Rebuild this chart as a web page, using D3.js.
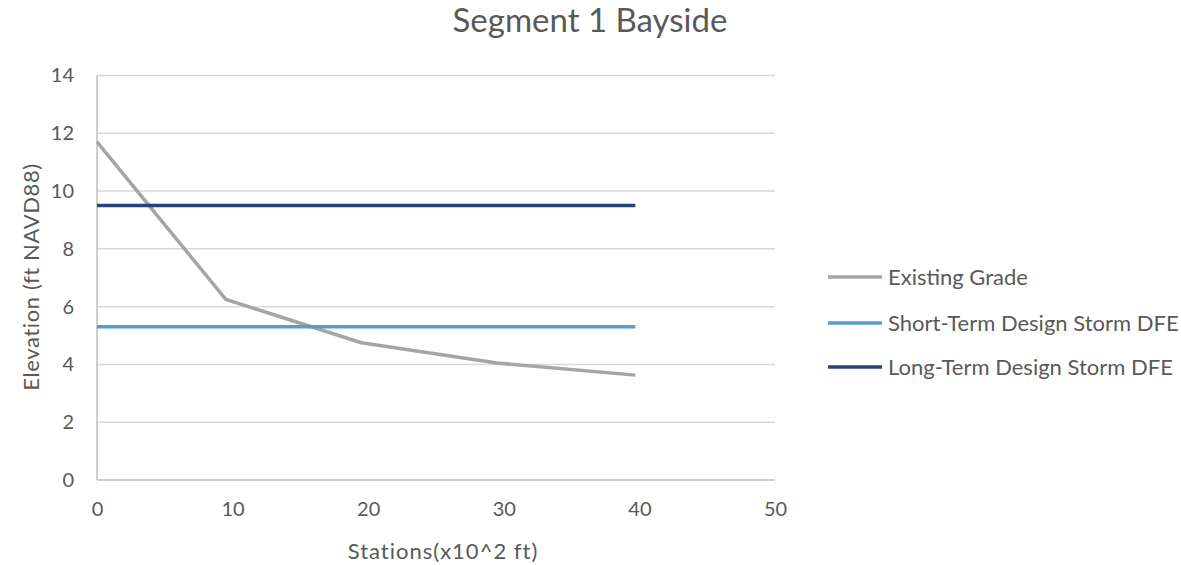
<!DOCTYPE html>
<html>
<head>
<meta charset="utf-8">
<script src="https://cdn.jsdelivr.net/npm/d3@7"></script>
<style>
  html, body { margin: 0; padding: 0; background: #fff; }
  svg text { font-family: Lato, "Open Sans", sans-serif; fill: #595959; }
</style>
</head>
<body>
<svg id="chart" width="1181" height="565"></svg>
<script>
// Stations (x10^2 ft) and elevations (ft NAVD88)
const stations = [0, 9.5, 19.5, 29.5, 39.7];
const existingGrade = [11.7, 6.25, 4.75, 4.05, 3.63];
const shortTermDFE = [5.3, 5.3, 5.3, 5.3, 5.3];
const longTermDFE = [9.5, 9.5, 9.5, 9.5, 9.5];
const seriesNames = ["Existing Grade", "Short-Term Design Storm DFE", "Long-Term Design Storm DFE"];
const seriesColors = ["#A5A5A5", "#5B9BD5", "#264478"];
const xTicks = [0, 10, 20, 30, 40, 50];
const yTicks = [0, 2, 4, 6, 8, 10, 12, 14];

const svg = d3.select("#chart");
const plot = { left: 97, right: 775, top: 75.5, bottom: 480 };

const x = d3.scaleLinear().domain([0, 50]).range([plot.left, plot.right]);
const y = d3.scaleLinear().domain([0, 14]).range([plot.bottom, plot.top]);

// horizontal gridlines
svg.append("g")
  .selectAll("line")
  .data(yTicks.filter(d => d > 0))
  .join("line")
  .attr("x1", plot.left).attr("x2", plot.right)
  .attr("y1", d => y(d)).attr("y2", d => y(d))
  .attr("stroke", "#D9D9D9").attr("stroke-width", 1.5);

// axis lines
svg.append("line")
  .attr("x1", plot.left).attr("x2", plot.right)
  .attr("y1", y(0)).attr("y2", y(0))
  .attr("stroke", "#BFBFBF").attr("stroke-width", 1.5);
svg.append("line")
  .attr("x1", x(0)).attr("x2", x(0))
  .attr("y1", y(0)).attr("y2", y(14))
  .attr("stroke", "#BFBFBF").attr("stroke-width", 1.5);

// tick labels via d3 axes (domain and tick marks hidden)
const yAxis = svg.append("g")
  .attr("transform", `translate(${plot.left},0)`)
  .call(d3.axisLeft(y).tickValues(yTicks).tickSize(0).tickPadding(23).tickFormat(d3.format("d")));
yAxis.select(".domain").remove();
yAxis.attr("font-family", null).attr("font-size", null);
yAxis.selectAll("text").style("font-size", "20px").attr("fill", "#595959");

const xAxis = svg.append("g")
  .attr("transform", `translate(0,${plot.bottom})`)
  .call(d3.axisBottom(x).tickValues(xTicks).tickSize(0).tickPadding(22).tickFormat(d3.format("d")));
xAxis.select(".domain").remove();
xAxis.attr("font-family", null).attr("font-size", null);
xAxis.selectAll("text").style("font-size", "20px").attr("fill", "#595959");

// series lines
const seriesData = [existingGrade, shortTermDFE, longTermDFE];
const line = d3.line()
  .x((d, i) => x(stations[i]))
  .y(d => y(d));

svg.append("g")
  .selectAll("path")
  .data(seriesData)
  .join("path")
  .attr("d", d => line(d))
  .attr("fill", "none")
  .attr("stroke", (d, i) => seriesColors[i])
  .attr("stroke-width", 3.5)
  .attr("stroke-linejoin", "round");

// title
svg.append("text")
  .attr("x", 590).attr("y", 32)
  .attr("text-anchor", "middle")
  .style("font-size", "33px")
  .text("Segment 1 Bayside");

// axis titles
svg.append("text")
  .attr("x", 443).attr("y", 559)
  .attr("text-anchor", "middle")
  .style("font-size", "22px")
  .style("letter-spacing", "1px")
  .text("Stations(x10^2 ft)");

svg.append("text")
  .attr("transform", "translate(39,277) rotate(-90)")
  .attr("text-anchor", "middle")
  .style("font-size", "22px")
  .style("letter-spacing", "0.6px")
  .text("Elevation (ft NAVD88)");

// legend
const legendY = [277, 323, 367];
const legend = svg.append("g")
  .selectAll("g")
  .data(seriesNames)
  .join("g")
  .attr("transform", (d, i) => `translate(828,${legendY[i]})`);
legend.append("line")
  .attr("x1", 0).attr("x2", 54)
  .attr("stroke", (d, i) => seriesColors[i])
  .attr("stroke-width", 3.5);
legend.append("text")
  .attr("x", 60).attr("y", 0)
  .attr("dy", "0.35em")
  .style("font-size", "22px")
  .text(d => d);
</script>
</body>
</html>
